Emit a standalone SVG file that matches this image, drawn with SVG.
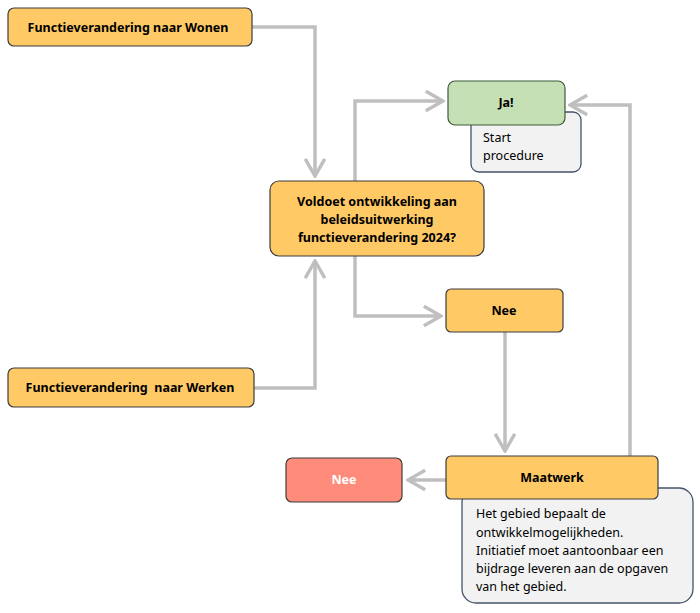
<svg xmlns="http://www.w3.org/2000/svg" width="700" height="613" viewBox="0 0 700 613">
<defs>
<style>
.c{fill:none;stroke:#bfbfbf;stroke-width:3.5;marker-end:url(#a)}
.o{fill:#ffc965;stroke:#3d3d3d;stroke-width:1.2}
.n{fill:#f2f2f2;stroke:#44546a;stroke-width:1.3}
text{font-family:"Noto Sans","Open Sans",sans-serif;font-size:12.5px;fill:#000}
.b{font-weight:bold;text-anchor:middle}
</style>
<marker id="a" viewBox="0 0 20 20" refX="18" refY="10" markerWidth="7" markerHeight="7" markerUnits="strokeWidth" orient="auto">
<polyline points="4,2 18,10 4,18" fill="none" stroke="#bfbfbf" stroke-width="2.8"/>
</marker>
</defs>
<rect width="700" height="613" fill="#fff"/>
<g id="connectors">
<polyline class="c" points="252,27 315,27 315,176"/>
<polyline class="c" points="254,388 315,388 315,261"/>
<polyline class="c" points="355,181 355,101 443,101"/>
<polyline class="c" points="355,256 355,316 441,316"/>
<polyline class="c" points="505,332 505,451"/>
<polyline class="c" points="446,480 408,480"/>
<polyline class="c" points="630,456 630,105 570,105"/>
</g>
<g id="wonen"><rect class="o" x="8" y="8" width="244" height="38" rx="6"/><text class="b" x="128" y="32">Functieverandering naar Wonen</text></g>
<g id="werken"><rect class="o" x="8" y="368" width="246" height="39" rx="6"/><text class="b" x="130" y="392" xml:space="preserve">Functieverandering  naar Werken</text></g>
<g id="beslissing"><rect class="o" x="270" y="181" width="214" height="75" rx="9"/>
<text class="b" x="377" y="206">Voldoet ontwikkeling aan</text>
<text class="b" x="377" y="224">beleidsuitwerking</text>
<text class="b" x="377" y="242">functieverandering 2024?</text></g>
<g id="ja"><rect class="n" x="471" y="112" width="110" height="60" rx="8"/>
<text x="483" y="142">Start</text><text x="483" y="160">procedure</text>
<rect x="448" y="81" width="117" height="44" rx="7" fill="#c5e0b4" stroke="#3d5a3d" stroke-width="1.2"/>
<text class="b" x="506" y="107">Ja!</text></g>
<g id="nee1"><rect class="o" x="446" y="289" width="117" height="43" rx="5"/><text class="b" x="504" y="315">Nee</text></g>
<g id="maatwerk"><rect class="n" x="462" y="488" width="231" height="115" rx="14"/>
<text x="476" y="518">Het gebied bepaalt de</text>
<text x="476" y="537">ontwikkelmogelijkheden.</text>
<text x="476" y="555">Initiatief moet aantoonbaar een</text>
<text x="476" y="573">bijdrage leveren aan de opgaven</text>
<text x="476" y="591">van het gebied.</text>
<rect class="o" x="446" y="456" width="212" height="43" rx="5"/><text class="b" x="552" y="482">Maatwerk</text></g>
<g id="nee2"><rect x="286" y="458" width="116" height="44" rx="6" fill="#ff8b7a" stroke="#3d3d3d" stroke-width="1.2"/><text class="b" x="344" y="484" style="fill:#fff">Nee</text></g>
</svg>
